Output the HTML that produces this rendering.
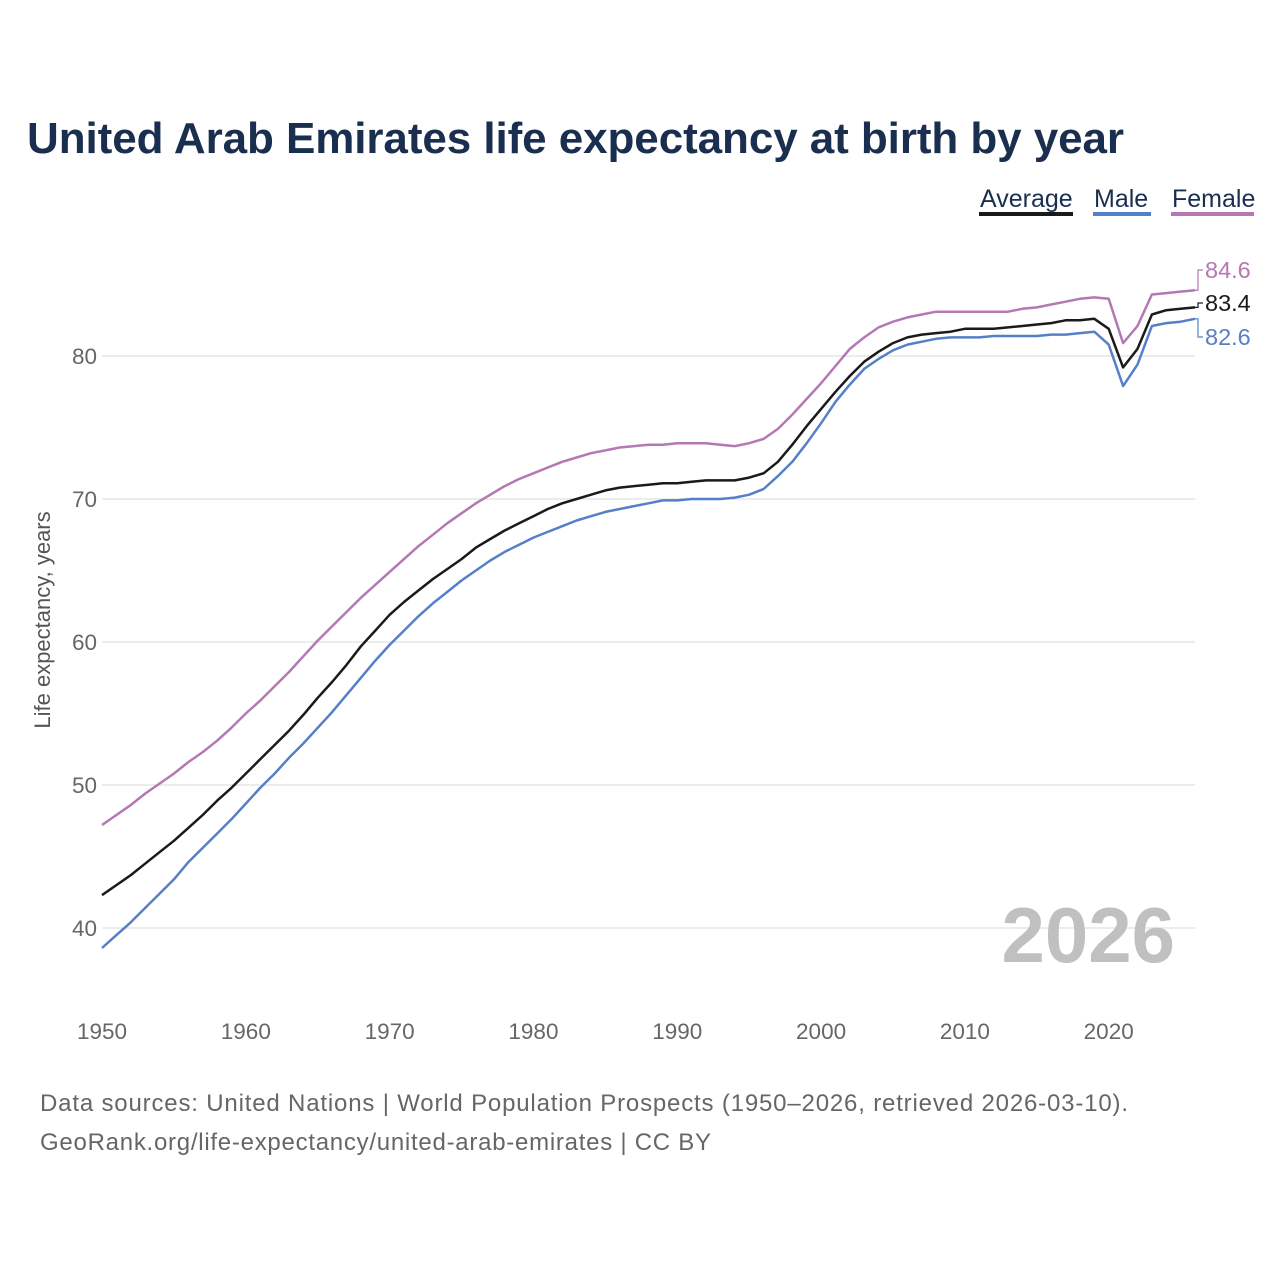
<!DOCTYPE html>
<html><head><meta charset="utf-8">
<style>
body{margin:0;background:#fff;width:1280px;height:1280px;overflow:hidden;font-family:"Liberation Sans",sans-serif;}
svg{display:block}
</style></head>
<body>
<svg width="1280" height="1280" viewBox="0 0 1280 1280">
<text x="27" y="153" font-size="44" font-weight="bold" fill="#1a2e4f" textLength="1097">United Arab Emirates life expectancy at birth by year</text>
<g id="legend">
<g><text x="980" y="207" font-size="25" fill="#1a2e4f">Average</text><rect x="979" y="212" width="94" height="4" fill="#1a1a1a"/></g>
<g><text x="1094" y="207" font-size="25" fill="#1a2e4f">Male</text><rect x="1093" y="212" width="58" height="4" fill="#5580c8"/></g>
<g><text x="1172" y="207" font-size="25" fill="#1a2e4f">Female</text><rect x="1171" y="212" width="83" height="4" fill="#b478b4"/></g>
</g>
<g id="grid"></g>
<g id="yticks"></g>
<g id="xticks"></g>
<text transform="translate(50,620) rotate(-90)" text-anchor="middle" font-size="22" fill="#555">Life expectancy, years</text>
<text x="1175" y="962" text-anchor="end" font-size="78" font-weight="bold" fill="#c0c0c0">2026</text>
<g id="series"></g>
<g id="endlabels"></g>
<text x="40" y="1111" font-size="24" fill="#666" textLength="1088">Data sources: United Nations | World Population Prospects (1950–2026, retrieved 2026-03-10).</text>
<text x="40" y="1150" font-size="24" fill="#666" textLength="671">GeoRank.org/life-expectancy/united-arab-emirates | CC BY</text>
</svg>
<script>
const startYear = 1950;
const female = [47.2,47.9,48.6,49.4,50.1,50.8,51.6,52.3,53.1,54.0,55.0,55.9,56.9,57.9,59.0,60.1,61.1,62.1,63.1,64.0,64.9,65.8,66.7,67.5,68.3,69.0,69.7,70.3,70.9,71.4,71.8,72.2,72.6,72.9,73.2,73.4,73.6,73.7,73.8,73.8,73.9,73.9,73.9,73.8,73.7,73.9,74.2,74.9,75.9,77.0,78.1,79.3,80.5,81.3,82.0,82.4,82.7,82.9,83.1,83.1,83.1,83.1,83.1,83.1,83.3,83.4,83.6,83.8,84.0,84.1,84.0,80.9,82.1,84.3,84.4,84.5,84.6];
const average = [42.3,43.0,43.7,44.5,45.3,46.1,47.0,47.9,48.9,49.8,50.8,51.8,52.8,53.8,54.9,56.1,57.2,58.4,59.7,60.8,61.9,62.8,63.6,64.4,65.1,65.8,66.6,67.2,67.8,68.3,68.8,69.3,69.7,70.0,70.3,70.6,70.8,70.9,71.0,71.1,71.1,71.2,71.3,71.3,71.3,71.5,71.8,72.6,73.8,75.1,76.3,77.5,78.6,79.6,80.3,80.9,81.3,81.5,81.6,81.7,81.9,81.9,81.9,82.0,82.1,82.2,82.3,82.5,82.5,82.6,81.9,79.2,80.5,82.9,83.2,83.3,83.4];
const male = [38.6,39.5,40.4,41.4,42.4,43.4,44.6,45.6,46.6,47.6,48.7,49.8,50.8,51.9,52.9,54.0,55.1,56.3,57.5,58.7,59.8,60.8,61.8,62.7,63.5,64.3,65.0,65.7,66.3,66.8,67.3,67.7,68.1,68.5,68.8,69.1,69.3,69.5,69.7,69.9,69.9,70.0,70.0,70.0,70.1,70.3,70.7,71.6,72.6,73.9,75.3,76.8,78.0,79.1,79.8,80.4,80.8,81.0,81.2,81.3,81.3,81.3,81.4,81.4,81.4,81.4,81.5,81.5,81.6,81.7,80.8,77.9,79.4,82.1,82.3,82.4,82.6];
const yTicks = [40,50,60,70,80];
const xTicks = [1950,1960,1970,1980,1990,2000,2010,2020];

const NS='http://www.w3.org/2000/svg';
function xScale(yr){return 102+(yr-1950)*(1195-102)/76;}
function yScale(v){return 356+(80-v)*14.3;}
function mk(tag,attrs,parent){const e=document.createElementNS(NS,tag);for(const k in attrs)e.setAttribute(k,attrs[k]);parent.appendChild(e);return e;}
const grid=document.getElementById('grid'),yt=document.getElementById('yticks'),xt=document.getElementById('xticks');
yTicks.forEach(v=>{
  const l=mk('line',{x1:102,x2:1195,y1:yScale(v),y2:yScale(v),stroke:'#e6e6e6','stroke-width':1.5},grid);
  
  
  const t=mk('text',{x:97,y:yScale(v)+8,'text-anchor':'end','font-size':22.5,fill:'#666'},yt);
  t.textContent=v;
  
  
});
xTicks.forEach(yr=>{
  const t=mk('text',{x:xScale(yr),y:1039,'text-anchor':'middle','font-size':22.5,fill:'#666'},xt);
  t.textContent=yr;
  
  
});
const ser=document.getElementById('series'),el=document.getElementById('endlabels');
const defs=[['female',female,'#b478b4',270],['average',average,'#1a1a1a',303],['male',male,'#5580c8',337]];
defs.forEach(([name,arr,col,ly])=>{
  const pts=arr.map((v,i)=>xScale(startYear+i).toFixed(1)+','+yScale(v).toFixed(1)).join(' ');
  const p=mk('polyline',{points:pts,fill:'none',stroke:col,'stroke-width':2.5,'stroke-linejoin':'round'},ser);
  
  
  const last=arr[arr.length-1],ex=xScale(startYear+arr.length-1),ey=yScale(last);
  const c=mk('polyline',{points:`${ex},${ey} 1198,${ey} 1198,${ly} 1203,${ly}`,fill:'none',stroke:col,'stroke-width':1.2},el);
  
  
  const t=mk('text',{x:1205,y:ly+8,'font-size':23.5,fill:col},el);
  t.textContent=last.toFixed(1);
  
  
});
</script>
</body></html>
